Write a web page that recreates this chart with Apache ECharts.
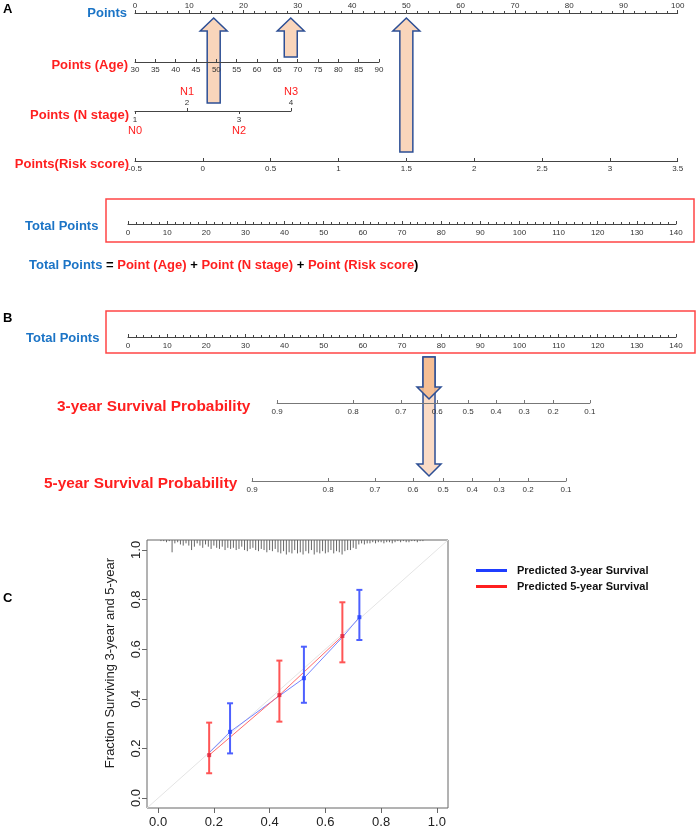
<!DOCTYPE html>
<html><head><meta charset="utf-8">
<script src="https://cdn.jsdelivr.net/npm/echarts@6/dist/echarts.min.js"></script>
<style>html,body{margin:0;padding:0;background:#fff}#c{width:696px;height:826px}</style>
</head><body><div id="c"></div>
<script>
// ---------------- DATA ----------------
const pointsRange = [0, 100];
const ageRange = [30, 90];
const nStageValues = [1, 2, 3, 4];
const nStageNames = ['N0', 'N1', 'N2', 'N3'];
const nStageAbove = [2, 4];
const nStageBelow = [1, 3];
const riskRange = [-0.5, 3.5];
const totalRange = [0, 140];
const survProbLabels = [0.9, 0.8, 0.7, 0.6, 0.5, 0.4, 0.3, 0.2, 0.1];
const surv3Points = [38.1, 57.5, 69.7, 79.0, 86.9, 94.0, 101.2, 108.6, 118.0];
const surv5Points = [31.7, 51.1, 63.1, 72.8, 80.5, 87.9, 94.8, 102.2, 111.9];
const arrowAPoints = [14.5, 28.7, 50];
const arrowBTotal = 76.9;

// calibration (panel C)
const cal3ObsX = [0.258, 0.523, 0.722];
const cal3ObsY = [0.267, 0.483, 0.729];
const cal3Lo = [0.180, 0.384, 0.637];
const cal3Hi = [0.382, 0.610, 0.839];
const cal3LineX = [0.183, 0.258, 0.435, 0.523, 0.661, 0.722];
const cal3LineY = [0.183, 0.267, 0.412, 0.483, 0.648, 0.729];
const cal5ObsX = [0.183, 0.435, 0.661];
const cal5ObsY = [0.173, 0.415, 0.653];
const cal5Lo = [0.100, 0.308, 0.547];
const cal5Hi = [0.304, 0.554, 0.789];
const calTicks = [0, 0.2, 0.4, 0.6, 0.8, 1.0];
const rugX = [];
const rugCount = [1,1,2,1,11,3,2,4,5,3, 5,9,6,3,5,7,4,6,8,5, 7,8,6,9,7,8,7,9,8,6, 9,10,8,7,9,10,8,9,11,9, 10,8,11,12,10,13,11,12,9,12, 11,13,10,12,9,13,11,12,10,12, 11,9,12,10,11,13,10,9,9,7, 8,4,3,4,3,3,2,3,2,2, 3,2,2,3,2,1,2,1,2,2, 1,1,2,1,1];
for (let i = 0; i < rugCount.length; i++) rugX.push(+((i + 1) / 100).toFixed(2));

// ---------------- LAYOUT ----------------
const FONT = 'Liberation Sans, Arial, Helvetica, sans-serif';
const RED = '#ff1f1f', BLUE = '#1b74c6', AX = '#444';
const ptsLeft = 135, ptsWidth = 542.7;
const totLeft = 128, totWidth = 548;
const pxPerTot = totWidth / (totalRange[1] - totalRange[0]);

const chart = echarts.init(document.getElementById('c'), null, {renderer: 'canvas'});

const grids = [], xAxes = [], yAxes = [];
function addGrid(left, width, lineY) {
  grids.push({left: left, top: lineY - 1, width: width, height: 1, outerBoundsMode: 'none', containLabel: false});
  yAxes.push({gridIndex: grids.length - 1, type: 'value', show: false});
  return grids.length - 1;
}
function rowAxis(g, o) {
  const ax = {
    gridIndex: g, type: 'value', min: o.min, max: o.max, position: o.pos || 'bottom', z: 5,
    axisLine: {show: o.line !== false, onZero: false, lineStyle: {color: o.lineColor || AX, width: 1}},
    axisTick: {show: true, inside: o.tickInside !== undefined ? o.tickInside : true, length: 3, lineStyle: {color: o.lineColor || AX}},
    minorTick: {show: !!o.minor, splitNumber: o.minor || 5, length: 2, lineStyle: {color: o.lineColor || AX}},
    axisLabel: {show: true, fontSize: 8, color: '#333', fontFamily: FONT, margin: o.margin || 4, inside: !!o.labelInside, showMinLabel: true, showMaxLabel: true},
    splitLine: {show: false}, minorSplitLine: {show: false}
  };
  if (o.interval !== undefined) ax.interval = o.interval;
  if (o.custom) { ax.axisLabel.customValues = o.custom; ax.axisTick.customValues = o.custom; }
  if (o.formatter) ax.axisLabel.formatter = o.formatter;
  if (o.rich) ax.axisLabel.rich = o.rich;
  xAxes.push(ax);
  return xAxes.length - 1;
}

// Panel A rows
const gPts = addGrid(ptsLeft, ptsWidth, 13);
grids[gPts].top = 13;
const axPts = rowAxis(gPts, {min: pointsRange[0], max: pointsRange[1], interval: 10, pos: 'top', tickInside: false, minor: 5, margin: 3});
const gAge = addGrid(ptsLeft, 244, 62);
rowAxis(gAge, {min: ageRange[0], max: ageRange[1], interval: 5});
const gN = addGrid(ptsLeft, 156, 111);
const nRich = {v: {fontSize: 8, color: '#333', fontFamily: FONT, lineHeight: 10}, n: {fontSize: 11, color: RED, fontFamily: FONT, lineHeight: 12}};
rowAxis(gN, {min: nStageValues[0], max: nStageValues[nStageValues.length - 1], custom: nStageBelow, tickInside: false, margin: 4,
  formatter: v => '{v|' + v + '}\n{n|' + nStageNames[nStageValues.indexOf(v)] + '}', rich: nRich});
rowAxis(gN, {min: nStageValues[0], max: nStageValues[nStageValues.length - 1], custom: nStageAbove, tickInside: true, labelInside: true, line: false, margin: 3,
  formatter: v => '{n|' + nStageNames[nStageValues.indexOf(v)] + '}\n{v|' + v + '}', rich: nRich});
const gRisk = addGrid(ptsLeft, ptsWidth, 161);
rowAxis(gRisk, {min: riskRange[0], max: riskRange[1], interval: 0.5});
const gTotA = addGrid(totLeft, totWidth, 224);
rowAxis(gTotA, {min: totalRange[0], max: totalRange[1], interval: 10, minor: 5, margin: 5});
// Panel B rows
const gTotB = addGrid(totLeft, totWidth, 337);
const axTotB = rowAxis(gTotB, {min: totalRange[0], max: totalRange[1], interval: 10, minor: 5, margin: 5});
function survRow(arr, lineY) {
  const mn = arr[0], mx = arr[arr.length - 1];
  const g = addGrid(totLeft + mn * pxPerTot, (mx - mn) * pxPerTot, lineY);
  rowAxis(g, {min: mn, max: mx, custom: arr, lineColor: '#777', margin: 5,
    formatter: v => String(survProbLabels[arr.indexOf(v)])});
}
survRow(surv3Points, 403);
survRow(surv5Points, 481);

// Panel C grid
grids.push({left: 147, top: 540, width: 301, height: 268, show: true, borderColor: '#666', borderWidth: 1, outerBoundsMode: 'none', containLabel: false});
const gC = grids.length - 1;
xAxes.push({gridIndex: gC, type: 'value', min: -0.04, max: 1.04,
  axisLine: {show: false, onZero: false},
  axisTick: {show: true, inside: false, length: 5, customValues: calTicks, lineStyle: {color: '#666'}},
  axisLabel: {customValues: calTicks, formatter: v => v.toFixed(1), fontSize: 13, color: '#222', fontFamily: FONT, margin: 8},
  splitLine: {show: false}});
const axC = xAxes.length - 1;
yAxes.push({gridIndex: gC, type: 'value', min: -0.04, max: 1.04,
  axisLine: {show: false, onZero: false},
  axisTick: {show: true, inside: false, length: 5, customValues: calTicks, lineStyle: {color: '#666'}},
  axisLabel: {customValues: calTicks, formatter: v => v.toFixed(1), fontSize: 13, color: '#222', fontFamily: FONT, margin: 4, rotate: 90},
  splitLine: {show: false},
  name: 'Fraction Surviving 3-year and 5-year', nameLocation: 'middle', nameRotate: 90, nameGap: 30,
  nameTextStyle: {fontSize: 13, color: '#222', fontFamily: FONT, padding: [0, 0, 0, 22]}});
const ayC = yAxes.length - 1;

function errRender(color) {
  return function (params, api) {
    const x = api.value(0), lo = api.value(1), hi = api.value(2);
    const pl = api.coord([x, lo]), ph = api.coord([x, hi]);
    const w = 3, st = {stroke: color, lineWidth: 2};
    return {type: 'group', children: [
      {type: 'line', shape: {x1: pl[0], y1: pl[1], x2: ph[0], y2: ph[1]}, style: st},
      {type: 'line', shape: {x1: pl[0] - w, y1: pl[1], x2: pl[0] + w, y2: pl[1]}, style: st},
      {type: 'line', shape: {x1: ph[0] - w, y1: ph[1], x2: ph[0] + w, y2: ph[1]}, style: st}
    ]};
  };
}
const rugTop = 1.04, rugUnit = 0.0045;
const series = [
  {type: 'line', xAxisIndex: axC, yAxisIndex: ayC, data: [[-0.04, -0.04], [1.04, 1.04]], symbol: 'none', silent: true,
   lineStyle: {color: '#e4e4e4', width: 1}, z: 1},
  {type: 'custom', xAxisIndex: axC, yAxisIndex: ayC, data: rugX.map((x, i) => [x, rugCount[i]]), silent: true,
   renderItem: function (params, api) {
     const x = api.value(0), c = api.value(1);
     const p0 = api.coord([x, rugTop]), p1 = api.coord([x, rugTop - c * rugUnit]);
     return {type: 'line', shape: {x1: p0[0], y1: p0[1], x2: p1[0], y2: p1[1]}, style: {stroke: '#666', lineWidth: 1}};
   }},
  {name: 'Predicted 3-year Survival', type: 'line', xAxisIndex: axC, yAxisIndex: ayC,
   data: cal3LineX.map((x, i) => [x, cal3LineY[i]]), symbol: 'none',
   itemStyle: {color: '#1f3dff'}, lineStyle: {color: '#7584ff', width: 1}, z: 3},
  {name: 'Predicted 5-year Survival', type: 'line', xAxisIndex: axC, yAxisIndex: ayC,
   data: cal5ObsX.map((x, i) => [x, cal5ObsY[i]]), symbol: 'none',
   itemStyle: {color: '#ff1f1f'}, lineStyle: {color: '#ff6b6b', width: 1}, z: 3},
  {type: 'custom', xAxisIndex: axC, yAxisIndex: ayC, data: cal3ObsX.map((x, i) => [x, cal3Lo[i], cal3Hi[i]]),
   renderItem: errRender('#4d60ff'), z: 4},
  {type: 'custom', xAxisIndex: axC, yAxisIndex: ayC, data: cal5ObsX.map((x, i) => [x, cal5Lo[i], cal5Hi[i]]),
   renderItem: errRender('#ff5555'), z: 4},
  {type: 'scatter', xAxisIndex: axC, yAxisIndex: ayC, data: cal3ObsX.map((x, i) => [x, cal3ObsY[i]]),
   symbol: 'rect', symbolSize: 4, itemStyle: {color: '#2040ff'}, z: 5},
  {type: 'scatter', xAxisIndex: axC, yAxisIndex: ayC, data: cal5ObsX.map((x, i) => [x, cal5ObsY[i]]),
   symbol: 'rect', symbolSize: 4, itemStyle: {color: '#e0203a'}, z: 5}
];

chart.setOption({
  animation: false,
  backgroundColor: '#fff',
  grid: grids, xAxis: xAxes, yAxis: yAxes, series: series,
  legend: {data: ['Predicted 3-year Survival', 'Predicted 5-year Survival'], orient: 'vertical', left: 471, top: 560,
    icon: 'rect', itemWidth: 31, itemHeight: 3, itemGap: 5,
    textStyle: {fontSize: 11, fontWeight: 'bold', color: '#111', fontFamily: FONT, padding: [0, 0, 0, 5]}}
});

// ---------------- ANNOTATIONS ----------------
function txt(text, x, y, o) {
  o = o || {};
  return {type: 'text', silent: true, z: 50, style: {text: text, x: x, y: y, fill: o.color || '#000',
    fontSize: o.size || 13, fontWeight: o.weight || 'bold', fontFamily: FONT,
    align: o.align || 'left', verticalAlign: 'middle', rich: o.rich}};
}
function upArrow(cx, yb, yt, sw, hw, hl, fill) {
  return {type: 'polygon', silent: true, z: -1, shape: {points: [[cx - sw, yb], [cx - sw, yt + hl], [cx - hw, yt + hl], [cx, yt], [cx + hw, yt + hl], [cx + sw, yt + hl], [cx + sw, yb]]},
    style: {fill: fill, stroke: '#2d4f95', lineWidth: 1.5}};
}
function downArrow(cx, yt, yb, sw, hw, hl, fill) {
  return {type: 'polygon', silent: true, z: -1, shape: {points: [[cx - sw, yt], [cx - sw, yb - hl], [cx - hw, yb - hl], [cx, yb], [cx + hw, yb - hl], [cx + sw, yb - hl], [cx + sw, yt]]},
    style: {fill: fill, stroke: '#2d4f95', lineWidth: 1.5}};
}
const els = [];
els.push(txt('A', 3, 9, {size: 13}));
els.push(txt('B', 3, 318, {size: 13}));
els.push(txt('C', 3, 598, {size: 13}));
els.push(txt('Points', 127, 13, {color: BLUE, align: 'right'}));
els.push(txt('Points (Age)', 128, 65, {color: RED, align: 'right'}));
els.push(txt('Points (N stage)', 129, 115, {color: RED, align: 'right'}));
els.push(txt('Points(Risk score)', 129, 164, {color: RED, align: 'right'}));
els.push(txt('Total Points', 25, 226, {color: BLUE}));
els.push(txt('Total Points', 26, 338, {color: BLUE}));
els.push(txt('{b|Total Points} = {r|Point (Age)} + {r|Point (N stage)} + {r|Point (Risk score}{k|)}', 29, 265, {
  color: '#000', rich: {b: {fill: BLUE, fontSize: 13, fontWeight: 'bold', fontFamily: FONT},
    r: {fill: RED, fontSize: 13, fontWeight: 'bold', fontFamily: FONT},
    k: {fill: '#000', fontSize: 13, fontWeight: 'bold', fontFamily: FONT}}}));
els.push(txt('3-year Survival Probability', 57, 407, {color: RED, size: 15.4}));
els.push(txt('5-year Survival Probability', 44, 484, {color: RED, size: 15.4}));
// red boxes
els.push({type: 'rect', silent: true, z: 30, shape: {x: 106, y: 199, width: 588, height: 43}, style: {fill: 'none', stroke: '#ff4545', lineWidth: 1.5}});
els.push({type: 'rect', silent: true, z: 30, shape: {x: 106, y: 311, width: 589, height: 42}, style: {fill: 'none', stroke: '#ff4545', lineWidth: 1.5}});
// arrows panel A
const arrowABottoms = [103, 57, 152];
arrowAPoints.forEach((p, i) => {
  const cx = chart.convertToPixel({xAxisIndex: axPts}, p);
  els.push(upArrow(cx, arrowABottoms[i], 18, 6.5, 13.5, 13, 'rgba(248,208,180,0.9)'));
});
// arrow panel B
const bx = chart.convertToPixel({xAxisIndex: axTotB}, arrowBTotal);
els.push(downArrow(bx, 357, 476, 6, 12, 12, 'rgba(249,215,192,0.9)'));
els.push(downArrow(bx, 357, 399, 6, 12, 12, 'rgba(244,186,142,0.9)'));

chart.setOption({graphic: {elements: els}});
</script></body></html>
